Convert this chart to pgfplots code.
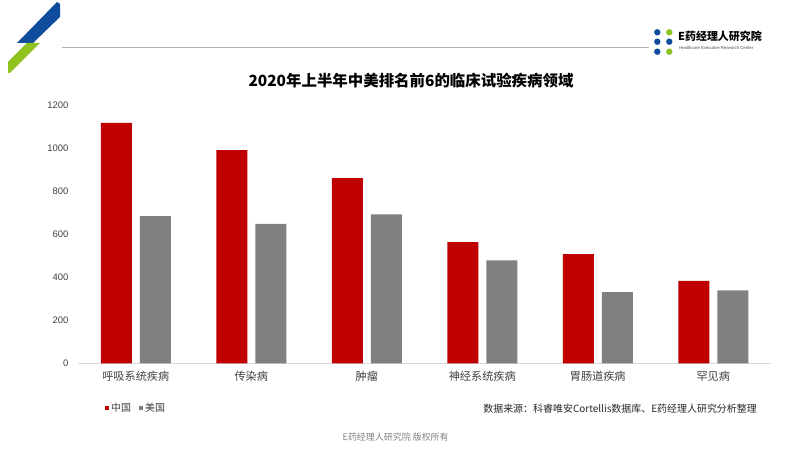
\documentclass[border=0pt]{standalone}
\usepackage{fontspec}
\usepackage{pgfplots}
\pgfplotsset{compat=1.18}
\setmainfont{Noto Sans CJK SC}
\newfontfamily\arial{Liberation Sans}
\definecolor{cnred}{HTML}{C00000}
\definecolor{usgray}{HTML}{808080}
\definecolor{txtgray}{HTML}{404040}
\definecolor{logoblue}{HTML}{0F4C9C}
\definecolor{logogreen}{HTML}{8DC21F}
\begin{document}
\begin{tikzpicture}[x=1bp,y=1bp]
\path[use as bounding box] (0,0) rectangle (800,450);
% top-left decoration (y_tikz = 450 - y_px)
\fill[logoblue] (57,448) -- (60,446) -- (60,433) -- (33,407) -- (17,407) -- cycle;
\fill[logogreen] (27,407) -- (40,407) -- (10,377) -- (8,377) -- (8,388) -- cycle;
% header line
\draw[color=black!30, line width=0.8bp] (62,403) -- (649,403);
% logo
\fill[logoblue] (657.3,417.7) circle (3.2);
\fill[logoblue] (657.3,408.3) circle (3.2);
\fill[logoblue] (657.3,398.3) circle (3.2);
\fill[logogreen] (669.3,417.7) circle (3.2);
\fill[logoblue] (669.3,408.3) circle (3.2);
\fill[logogreen] (669.3,398.3) circle (3.2);
\node[anchor=west, inner sep=0, font=\fontsize{11}{12}\selectfont\bfseries] at (678,413.3) {E药经理人研究院};
\node[anchor=west, inner sep=0, font=\arial\fontsize{4.3}{5}\selectfont, text=black!70] at (679,402.3) {Healthcare Executive Research Center};
% title
\node[font=\fontsize{15.5}{17}\selectfont\bfseries] at (411,369.3) {2020年上半年中美排名前6的临床试验疾病领域};
\begin{axis}[
  scale only axis,
  at={(78bp,86.7bp)}, anchor=south west,
  width=693bp, height=257.6bp,
  ymin=0, ymax=1200,
  xmin=-0.5, xmax=5.5,
  ytick={0,200,400,600,800,1000,1200},
  xtick=data,
  xticklabels={呼吸系统疾病,传染病,肿瘤,神经系统疾病,胃肠道疾病,罕见病},
  major tick length=0pt,
  axis x line*=bottom,
  axis y line*=left,
  separate axis lines,
  x axis line style={draw=black!15, line width=0.8bp},
  y axis line style={draw=none},
  ybar=8bp, bar width=31bp,
  /pgf/number format/assume math mode=true,
  /pgf/number format/1000 sep={},
  yticklabel style={font=\arial\fontsize{9.5}{10}\selectfont, text=txtgray, xshift=-6bp},
  xticklabel style={font=\fontsize{11.2}{12}\selectfont, text=txtgray, yshift=-4bp},
  tick style={draw=none},
]
\addplot[fill=cnred, draw=none] coordinates {(0,1120) (1,993) (2,862) (3,565) (4,508) (5,384)};
\addplot[fill=usgray, draw=none] coordinates {(0,686) (1,649) (2,694) (3,480) (4,332) (5,340)};
\end{axis}
% legend
\fill[cnred] (104.5,40) rectangle (108.5,44);
\node[anchor=west, inner sep=0, font=\fontsize{10}{11}\selectfont, text=txtgray] at (111,42) {中国};
\fill[usgray] (138.5,40) rectangle (142.5,44);
\node[anchor=west, inner sep=0, font=\fontsize{10}{11}\selectfont, text=txtgray] at (145,42) {美国};
% source
\node[anchor=east, inner sep=0, font=\fontsize{10}{11}\selectfont, text=black!85] at (757,41) {数据来源：科睿唯安Cortellis数据库、E药经理人研究分析整理};
% footer
\node[inner sep=0, font=\fontsize{9}{10}\selectfont, text=black!50] at (395.7,13) {E药经理人研究院\ 版权所有};
\end{tikzpicture}
\end{document}
